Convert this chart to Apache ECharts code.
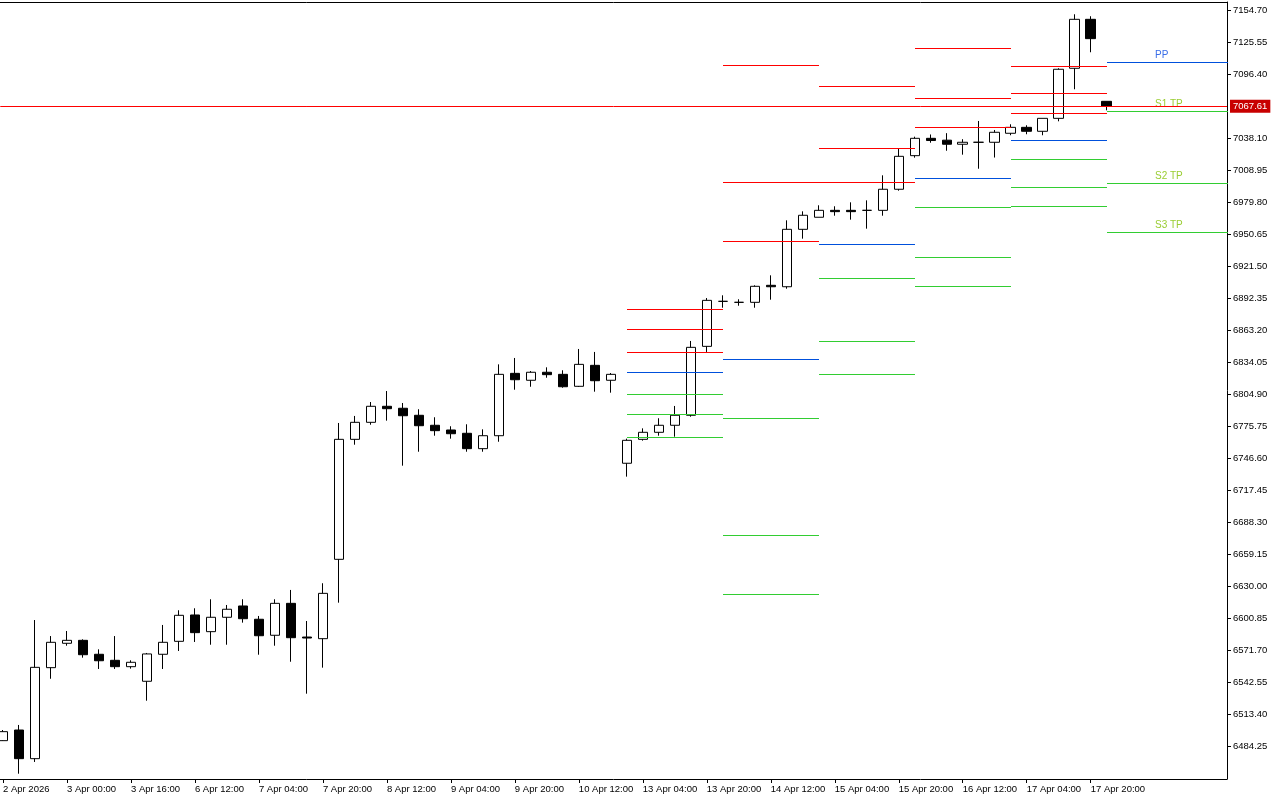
<!DOCTYPE html>
<html><head><meta charset="utf-8">
<script src="https://cdn.jsdelivr.net/npm/echarts@6/dist/echarts.min.js"></script>
<style>html,body{margin:0;padding:0;background:#fff}#c{width:1280px;height:800px}</style>
</head><body><div id="c"></div>
<script>
// ---- data ----
const xTickLabels = ['2 Apr 2026','3 Apr 00:00','3 Apr 16:00','6 Apr 12:00','7 Apr 04:00','7 Apr 20:00','8 Apr 12:00','9 Apr 04:00','9 Apr 20:00','10 Apr 12:00','13 Apr 04:00','13 Apr 20:00','14 Apr 12:00','15 Apr 04:00','15 Apr 20:00','16 Apr 12:00','17 Apr 04:00','17 Apr 20:00'];
const barsPerTick = 4;
const yTicks = [6484.25,6513.40,6542.55,6571.70,6600.85,6630.00,6659.15,6688.30,6717.45,6746.60,6775.75,6804.90,6834.05,6863.20,6892.35,6921.50,6950.65,6979.80,7008.95,7038.10,7096.40,7125.55,7154.70];
const currentPrice = 7067.61;

const openPrices = [6489.7,6499.4,6473.3,6556.2,6578.4,6581.1,6568.4,6562.9,6557.1,6543.8,6568.4,6580.2,6604.2,6589.0,6602.1,6612.4,6600.3,6585.7,6614.8,6584.1,6582.6,6654.9,6764.2,6779.7,6794.3,6792.5,6786.1,6777.0,6772.7,6769.7,6755.7,6767.5,6824.3,6818.0,6825.3,6823.4,6812.5,6831.6,6818.0,6742.4,6764.2,6770.6,6777.0,6786.1,6848.9,6889.9,6889.0,6889.0,6904.5,6903.2,6955.5,6966.5,6972.8,6972.8,6972.8,6972.8,6992.0,7022.6,7038.4,7036.7,7033.0,7034.8,7034.8,7043.0,7048.4,7044.8,7056.6,7102.2,7146.8,7072.1];
const highPrices = [6499.4,6504.0,6599.6,6585.0,6589.6,6582.0,6572.9,6585.0,6562.9,6569.6,6595.1,6608.5,6610.3,6618.5,6613.3,6618.5,6603.3,6618.5,6627.0,6598.7,6633.1,6779.1,6785.5,6798.2,6808.2,6797.3,6791.6,6784.3,6776.1,6777.9,6773.3,6832.5,6838.3,6826.4,6829.8,6827.1,6846.5,6843.8,6824.6,6764.8,6774.2,6783.4,6794.6,6853.8,6892.9,6895.4,6891.8,6904.5,6913.6,6963.7,6971.9,6977.4,6976.5,6980.1,6981.9,7004.7,7028.9,7039.9,7041.9,7043.1,7037.6,7054.2,7046.0,7051.2,7050.3,7056.6,7102.2,7151.4,7149.6,7072.1];
const lowPrices = [6489.4,6459.6,6470.3,6546.1,6576.2,6565.3,6555.0,6555.0,6555.3,6526.1,6555.0,6571.4,6579.6,6577.1,6577.1,6597.2,6568.0,6576.2,6561.6,6532.5,6556.2,6615.4,6759.3,6777.5,6781.2,6740.2,6752.9,6767.5,6764.8,6752.9,6752.9,6762.0,6809.4,6812.1,6820.3,6811.2,6811.9,6807.6,6806.7,6730.2,6763.0,6767.5,6766.6,6784.8,6843.8,6884.1,6885.9,6884.1,6891.4,6901.4,6947.0,6966.5,6967.9,6964.3,6956.1,6967.9,6990.7,7020.8,7034.4,7027.1,7023.5,7010.7,7020.9,7041.2,7042.1,7041.2,7053.9,7083.1,7116.8,7063.9];
const closePrices = [6497.9,6473.3,6556.5,6579.3,6581.1,6568.0,6562.5,6557.1,6561.1,6568.7,6579.3,6603.9,6588.1,6602.1,6609.4,6600.8,6585.3,6614.8,6583.5,6583.2,6623.9,6764.2,6779.7,6794.3,6792.1,6785.7,6776.6,6772.1,6769.3,6755.7,6767.5,6823.4,6818.5,6825.3,6823.1,6812.1,6832.5,6817.6,6823.4,6763.3,6770.6,6777.0,6786.1,6848.0,6890.8,6889.9,6889.0,6903.6,6903.2,6955.5,6968.3,6972.8,6971.6,6971.6,6972.8,6992.0,7022.0,7038.4,7036.4,7033.0,7034.8,7034.8,7043.9,7048.4,7044.8,7056.6,7101.3,7146.8,7129.2,7067.61];

// daily pivot levels (bar index where each day starts)
const pivotStart = [39, 45, 51, 57, 63, 69];
const pivotR3 = [6882.6, 7105.2, 7085.8, 7120.4, 7104.0, null];
const pivotR2 = [6864.4, 6998.3, 7029.3, 7074.9, 7079.4, null];
const pivotR1 = [6843.8, 6944.9, 6998.3, 7048.4, 7061.2, null];
const pivotPP = [6825.3, 6837.1, 6941.9, 7002.0, 7036.6, 7107.6];
const pivotS1 = [6805.2, 6783.4, 6910.9, 6975.6, 7019.3, 7063.3];
const pivotS2 = [6787.0, 6676.8, 6853.8, 6930.0, 6993.8, 6997.7];
const pivotS3 = [6766.0, 6623.0, 6823.7, 6903.6, 6976.5, 6953.1];
const levelNames = ['R3','R2','R1','PP','S1','S2','S3'];
const levelLabels = ['', '', '', 'PP', 'S1 TP', 'S2 TP', 'S3 TP'];

// ---- styles ----
const FONT = '"Liberation Sans", Arial, sans-serif';
const RED = '#ff0000', BLUE = '#0050dc', GREEN = '#32cd32';
const levelColors = [RED, RED, RED, BLUE, GREEN, GREEN, GREEN];
const labelColors = ['', '', '', '#3a6ee8', '#9acd32', '#9acd32', '#9acd32'];
const X_MIN = -0.169, X_MAX = 76.52;
const Y_MIN = 6454.78, Y_MAX = 7162.58;

const candleData = openPrices.map((o, i) => [i, o, closePrices[i], lowPrices[i], highPrices[i]]);
const levelArrays = [pivotR3, pivotR2, pivotR1, pivotPP, pivotS1, pivotS2, pivotS3];
const segData = [];
pivotStart.forEach((s, d) => {
  const last = d === pivotStart.length - 1;
  const e = last ? X_MAX + 1 : pivotStart[d + 1];
  levelArrays.forEach((arr, k) => {
    if (arr[d] == null) return;
    segData.push([s, e, arr[d], k, last ? 1 : 0]);
  });
});
const xTickIdx = xTickLabels.map((_, k) => k * barsPerTick);

const chart = echarts.init(document.getElementById('c'), null, {renderer: 'canvas'});
chart.setOption({
  animation: false,
  backgroundColor: '#fff',
  grid: {left: 0, right: 53, top: 2, bottom: 21, show: false},
  xAxis: [{
    type: 'value', min: X_MIN, max: X_MAX, position: 'bottom',
    axisLine: {show: true, lineStyle: {color: '#000', width: 1}},
    axisTick: {show: true, length: 4, customValues: xTickIdx, lineStyle: {color: '#000', width: 1}},
    axisLabel: {show: true, customValues: xTickIdx, formatter: v => xTickLabels[Math.round(v / barsPerTick)],
      align: 'left', margin: 5, color: '#000', fontSize: 9.5, fontFamily: FONT},
    splitLine: {show: false}
  }, {
    type: 'value', min: X_MIN, max: X_MAX, position: 'top',
    axisLine: {show: true, onZero: false, lineStyle: {color: '#000', width: 1}},
    axisTick: {show: false}, axisLabel: {show: false}, splitLine: {show: false}
  }],
  yAxis: {
    type: 'value', min: Y_MIN, max: Y_MAX, position: 'right', scale: true,
    axisLine: {show: true, onZero: false, lineStyle: {color: '#000', width: 1}},
    axisTick: {show: true, length: 4, customValues: yTicks, lineStyle: {color: '#000', width: 1}},
    axisLabel: {show: true, customValues: yTicks, formatter: v => Number(v).toFixed(2),
      margin: 6, padding: [5, 0, 0, 0], color: '#000', fontSize: 9.5, fontFamily: FONT},
    splitLine: {show: false}
  },
  series: [{
    type: 'candlestick', silent: true, barWidth: 10, xAxisIndex: 0,
    data: candleData,
    itemStyle: {color: '#fff', color0: '#000', borderColor: '#000', borderColor0: '#000', borderWidth: 1},
    markLine: {
      silent: true, animation: false, symbol: ['none', 'none'],
      data: [{yAxis: currentPrice}],
      lineStyle: {color: RED, width: 1, type: 'solid'},
      label: {show: true, position: 'end', distance: 3, formatter: p => Number(p.value).toFixed(2),
        color: '#fff', backgroundColor: '#c80000', padding: [2, 3, 1, 3], lineHeight: 10,
        fontSize: 9.5, fontFamily: FONT},
      emphasis: {disabled: true}
    }
  }, {
    type: 'custom', silent: true, clip: true, xAxisIndex: 0, z: 3,
    encode: {x: [0, 1], y: 2},
    data: segData,
    renderItem: (params, api) => {
      const s = api.value(0), e = api.value(1), v = api.value(2), k = api.value(3), last = api.value(4);
      const p1 = api.coord([s, v]), p2 = api.coord([e, v]);
      const y = Math.round(p1[1]) + 0.5;
      const children = [{type: 'line', shape: {x1: Math.round(p1[0]), y1: y, x2: Math.round(p2[0]), y2: y},
        style: {stroke: levelColors[k], lineWidth: 1}}];
      if (last && levelLabels[k]) {
        children.push({type: 'text', x: Math.round(p1[0]) + 48, y: y - 7,
          style: {text: levelLabels[k], fill: labelColors[k], font: '10px ' + FONT, align: 'left', verticalAlign: 'middle'}});
      }
      return {type: 'group', children};
    }
  }]
});
</script></body></html>
